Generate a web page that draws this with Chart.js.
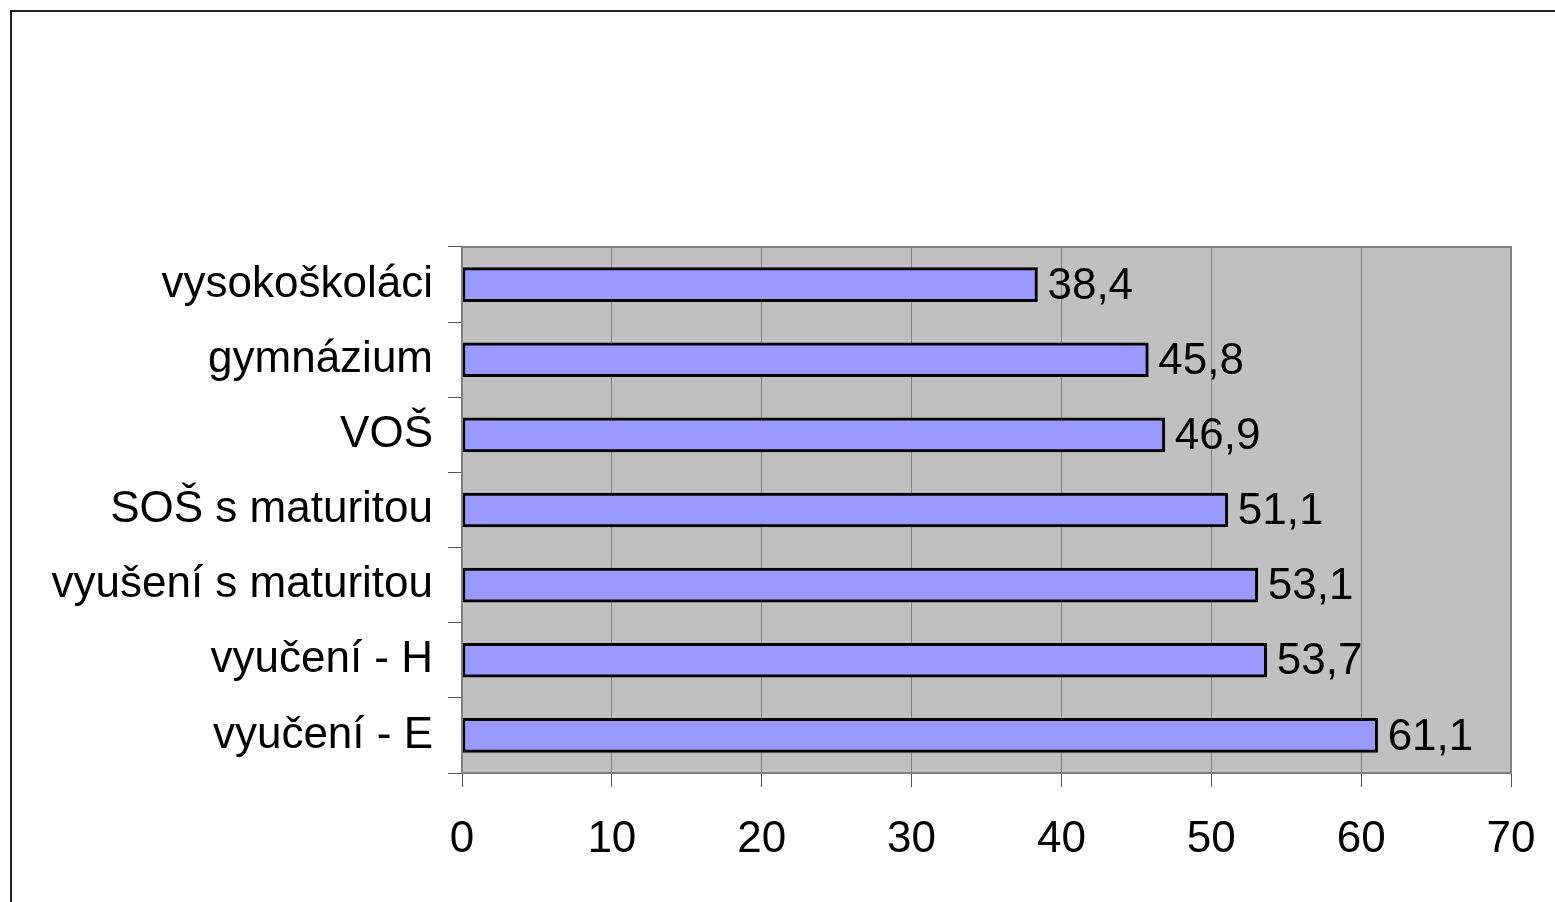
<!DOCTYPE html>
<html>
<head>
<meta charset="utf-8">
<script src="https://cdn.jsdelivr.net/npm/chart.js@4/dist/chart.umd.min.js"></script>
<style>
    html, body { margin: 0; padding: 0; overflow: hidden; background: #fff; }
    #frame { position: absolute; left: 10px; top: 10px; width: 1600px; height: 1000px;
             border-left: 2px solid #222; border-top: 2px solid #222; }
    #wrap { position: absolute; left: 0; top: 0; width: 1555px; height: 902px; }
</style>
</head>
<body>
<div id="frame"></div>
<div id="wrap"><canvas id="chart"></canvas></div>
<script>
// --- Data ---
const categories = [
    "vysokoškoláci",
    "gymnázium",
    "VOŠ",
    "SOŠ s maturitou",
    "vyušení s maturitou",
    "vyučení - H",
    "vyučení - E"
];
const values = [38.4, 45.8, 46.9, 51.1, 53.1, 53.7, 61.1];

const FONT = "'Liberation Sans', Arial, sans-serif";
const FONT_SIZE = 44;

// background + border of the plot area
const plotArea = {
    id: 'plotArea',
    beforeDraw(chart) {
        const { ctx, chartArea: a } = chart;
        ctx.save();
        ctx.fillStyle = '#c0c0c0';
        ctx.fillRect(a.left, a.top, a.right - a.left, a.bottom - a.top);
        ctx.restore();
    },
    afterDraw(chart) {
        const { ctx, chartArea: a } = chart;
        ctx.save();
        ctx.strokeStyle = '#808080';
        ctx.lineWidth = 2;
        ctx.strokeRect(a.left, a.top, a.right - a.left, a.bottom - a.top);
        ctx.restore();
    }
};

// value labels next to the bars
const valueLabels = {
    id: 'valueLabels',
    afterDatasetsDraw(chart) {
        const { ctx } = chart;
        const meta = chart.getDatasetMeta(0);
        ctx.save();
        ctx.font = FONT_SIZE + 'px ' + FONT;
        ctx.fillStyle = '#000';
        ctx.textAlign = 'left';
        ctx.textBaseline = 'middle';
        meta.data.forEach((bar, i) => {
            const txt = values[i].toFixed(1).replace('.', ',');
            ctx.fillText(txt, bar.x + 10, bar.y + 2);
        });
        ctx.restore();
    }
};

new Chart(document.getElementById('chart').getContext('2d'), {
    type: 'bar',
    data: {
        labels: categories,
        datasets: [{
            data: values,
            backgroundColor: '#9999ff',
            borderColor: '#000',
            borderWidth: 3,
            borderSkipped: false,
            barThickness: 34
        }]
    },
    options: {
        indexAxis: 'y',
        responsive: true,
        maintainAspectRatio: false,
        animation: false,
        layout: { padding: { top: 247, right: 44, left: 0, bottom: 0 } },
        plugins: {
            legend: { display: false },
            tooltip: { enabled: false }
        },
        scales: {
            x: {
                min: 0,
                max: 70,
                ticks: { stepSize: 10, color: '#000', font: { size: FONT_SIZE, family: FONT }, padding: 26 },
                grid: { color: '#808080', lineWidth: 1, tickLength: 14, tickColor: '#555' },
                border: { color: '#808080', width: 2 },
                afterFit(scale) {
                    scale.height = 129;
                    scale.paddingLeft = 0;
                    scale.paddingRight = 0;
                }
            },
            y: {
                offset: true,
                ticks: { color: '#000', font: { size: FONT_SIZE, family: FONT }, padding: 15 },
                grid: { drawOnChartArea: false, tickLength: 14, tickColor: '#555', offset: true },
                border: { color: '#808080', width: 2 },
                afterFit(scale) { scale.width = 462; }
            }
        }
    },
    plugins: [plotArea, valueLabels]
});
</script>
</body>
</html>
